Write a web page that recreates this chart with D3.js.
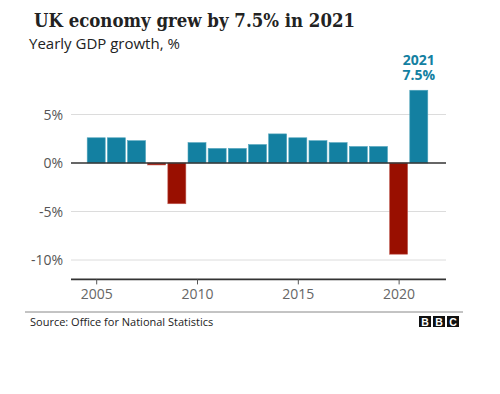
<!DOCTYPE html>
<html>
<head>
<meta charset="utf-8">
<script src="https://cdn.jsdelivr.net/npm/d3@7"></script>
<style>
  body { margin: 0; background: #fff; }
  text { font-family: "Open Sans", "Noto Sans", sans-serif; }
</style>
</head>
<body>
<div class="chart"></div>
<script>
// Chart data
var years = [2005, 2006, 2007, 2008, 2009, 2010, 2011, 2012, 2013, 2014, 2015, 2016, 2017, 2018, 2019, 2020, 2021];
var growth = [2.6, 2.6, 2.3, -0.2, -4.2, 2.1, 1.5, 1.5, 1.9, 3.0, 2.6, 2.3, 2.1, 1.7, 1.7, -9.4, 7.5];
var yTicks = [5, 0, -5, -10];
var xTicks = [2005, 2010, 2015, 2020];
var noteLines = ["2021", "7.5%"];

var svgWidth = 500;
var svgHeight = 394;

var svg = d3.select(".chart")
  .append("svg")
  .attr("width", svgWidth)
  .attr("height", svgHeight);

// scales
var xScale = d3.scaleLinear()
  .domain([2003.75, 2022.35])
  .range([71, 446]);

var yScale = d3.scaleLinear()
  .domain([-12, 0])
  .range([279.4, 163]);

var barWidth = 18;

// title + subtitle
svg.append("text")
  .attr("x", 34)
  .attr("y", 27)
  .style("font-family", "'DejaVu Serif', serif")
  .style("font-weight", "bold")
  .style("font-size", "18.5px")
  .attr("textLength", 321)
  .attr("lengthAdjust", "spacingAndGlyphs")
  .attr("fill", "#222")
  .text("UK economy grew by 7.5% in 2021");

svg.append("text")
  .attr("x", 29)
  .attr("y", 49)
  .style("font-size", "15px")
  .attr("fill", "#222")
  .text("Yearly GDP growth, %");

// gridlines
svg.selectAll(".grid")
  .data(yTicks.filter(d => d !== 0))
  .enter()
  .append("line")
  .attr("x1", 71)
  .attr("x2", 446)
  .attr("y1", d => yScale(d))
  .attr("y2", d => yScale(d))
  .attr("stroke", "#dcdcdc")
  .attr("stroke-width", 1);

// y tick labels
svg.selectAll(".ylab")
  .data(yTicks)
  .enter()
  .append("text")
  .attr("x", 63)
  .attr("y", d => yScale(d) + 5)
  .attr("text-anchor", "end")
  .style("font-size", "14px")
  .attr("fill", "#555")
  .text(d => d + "%");

// bars
svg.selectAll(".bar")
  .data(years)
  .enter()
  .append("rect")
  .attr("x", (d, i) => xScale(d) - barWidth / 2)
  .attr("y", (d, i) => yScale(Math.max(0, growth[i])))
  .attr("width", barWidth)
  .attr("height", (d, i) => Math.abs(yScale(growth[i]) - yScale(0)))
  .attr("fill", (d, i) => growth[i] >= 0 ? "#1380a1" : "#990f00")
  .attr("stroke", (d, i) => growth[i] >= 0 ? "#4fa3bb" : "#c05a50")
  .attr("stroke-width", 0.6);

// zero line
svg.append("line")
  .attr("x1", 71)
  .attr("x2", 446)
  .attr("y1", yScale(0))
  .attr("y2", yScale(0))
  .attr("stroke", "#333")
  .attr("stroke-width", 1.3);

// bottom axis
var bottomAxis = d3.axisBottom(xScale)
  .tickValues(xTicks)
  .tickFormat(d3.format("d"))
  .tickSize(5)
  .tickPadding(5);

var axisG = svg.append("g")
  .attr("transform", `translate(0, ${yScale(-12)})`)
  .call(bottomAxis);

axisG.select(".domain")
  .attr("d", "M71,0H446")
  .attr("stroke", "#333")
  .attr("stroke-width", 1.6);
axisG.selectAll(".tick line").attr("stroke", "#555");
axisG.selectAll(".tick text")
  .style("font-family", "'Open Sans', sans-serif")
  .style("font-size", "14px")
  .attr("fill", "#666");

// annotation (one text, two lines)
var note = svg.append("text")
  .attr("x", xScale(2021))
  .attr("y", 65)
  .attr("text-anchor", "middle")
  .style("font-size", "14px")
  .style("font-weight", "bold")
  .attr("fill", "#1380a1");
note.selectAll("tspan")
  .data(noteLines)
  .enter()
  .append("tspan")
  .attr("x", xScale(2021))
  .attr("dy", (d, i) => i === 0 ? 0 : 15)
  .text(d => d);

// footer
svg.append("line")
  .attr("x1", 25)
  .attr("x2", 463)
  .attr("y1", 312)
  .attr("y2", 312)
  .attr("stroke", "#888")
  .attr("stroke-width", 1);

svg.append("text")
  .attr("x", 30)
  .attr("y", 326)
  .style("font-size", "11px")
  .attr("fill", "#222")
  .text("Source: Office for National Statistics");

// BBC logo
var letters = ["B", "B", "C"];
svg.selectAll(".logo")
  .data(letters)
  .enter()
  .append("rect")
  .attr("x", (d, i) => 419 + i * 14)
  .attr("y", 316)
  .attr("width", 12)
  .attr("height", 11)
  .attr("fill", "#111");
svg.selectAll(".logotext")
  .data(letters)
  .enter()
  .append("text")
  .attr("x", (d, i) => 425 + i * 14)
  .attr("y", 325.5)
  .attr("text-anchor", "middle")
  .style("font-family", "'Liberation Sans', sans-serif")
  .style("font-weight", "bold")
  .style("font-size", "10.5px")
  .attr("fill", "#fff")
  .text(d => d);
</script>
</body>
</html>
